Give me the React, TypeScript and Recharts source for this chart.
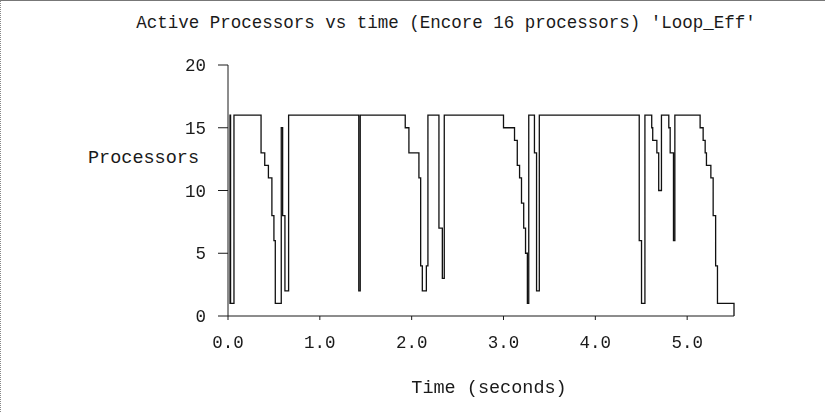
import React from 'react';
import { LineChart, Line, XAxis, YAxis } from 'recharts';

// time (s) at which the processor count changes, and the count from then on
const times = [
  0.015, 0.022, 0.028, 0.065, 0.36, 0.40, 0.44, 0.478, 0.50, 0.515, 0.58, 0.595, 0.62, 0.66,
  1.424, 1.44, 1.93, 1.97, 2.079, 2.098, 2.116, 2.16, 2.177, 2.297, 2.334, 2.355,
  3.0, 3.12, 3.15, 3.175, 3.196, 3.22, 3.24, 3.26, 3.275, 3.337, 3.36, 3.39,
  4.478, 4.503, 4.54, 4.614, 4.625, 4.67, 4.69, 4.72, 4.80, 4.815, 4.851, 4.866,
  5.141, 5.174, 5.196, 5.21, 5.258, 5.283, 5.31, 5.33, 5.51,
];
const procs = [
  1, 16, 1, 16, 13, 12, 11, 8, 6, 1, 15, 8, 2, 16,
  2, 16, 15, 13, 11, 4, 2, 4, 16, 7, 3, 16,
  15, 14, 12, 11, 9, 7, 5, 1, 16, 13, 2, 16,
  6, 1, 16, 15, 14, 13, 10, 16, 15, 13, 6, 16,
  15, 14, 13, 12, 11, 8, 4, 1, 0,
];
const xTicks = [0, 1, 2, 3, 4, 5];
const yTicks = [0, 5, 10, 15, 20];

const data = times.map((t, i) => ({ t, p: procs[i] }));

const mono = "'Courier New', 'Liberation Mono', monospace";
const ink = '#1a1a1a';

export default function App() {
  return (
    <div
      style={{
        position: 'fixed', left: 0, top: 0, width: 825, height: 412, background: '#fff',
        fontFamily: mono, color: ink, borderTop: '1px solid #777', borderLeft: '1px dotted #888',
        boxSizing: 'border-box',
      }}
    >
      <div style={{ position: 'absolute', left: 0, width: 890, top: 12, textAlign: 'center', fontSize: 17.5, whiteSpace: 'pre' }}>
        Active Processors vs time (Encore 16 processors) 'Loop_Eff'
      </div>
      <div style={{ position: 'absolute', left: 87, top: 147, fontSize: 18.5 }}>Processors</div>
      <div style={{ position: 'absolute', left: 0, width: 976, top: 377, textAlign: 'center', fontSize: 18.5, whiteSpace: 'pre' }}>
        Time (seconds)
      </div>
      <div style={{ position: 'absolute', left: -1, top: -1 }}>
        <LineChart width={825} height={412} data={data} margin={{ top: 65, right: 91, bottom: 56, left: 0 }}>
          <XAxis
            dataKey="t"
            type="number"
            domain={[0, 5.5]}
            ticks={xTicks}
            tickFormatter={(v: number) => v.toFixed(1)}
            height={40}
            stroke={ink}
            tickSize={4}
            tickMargin={16}
            tick={{ fill: ink, fontSize: 17.5, fontFamily: mono }}
          />
          <YAxis
            type="number"
            domain={[0, 20]}
            ticks={yTicks}
            width={228}
            stroke={ink}
            tickSize={10}
            tickMargin={12}
            tick={{ fill: ink, fontSize: 17.5, fontFamily: mono }}
          />
          <Line
            type="stepAfter"
            dataKey="p"
            stroke="#111"
            strokeWidth={1.3}
            dot={false}
            isAnimationActive={false}
          />
        </LineChart>
      </div>
    </div>
  );
}
